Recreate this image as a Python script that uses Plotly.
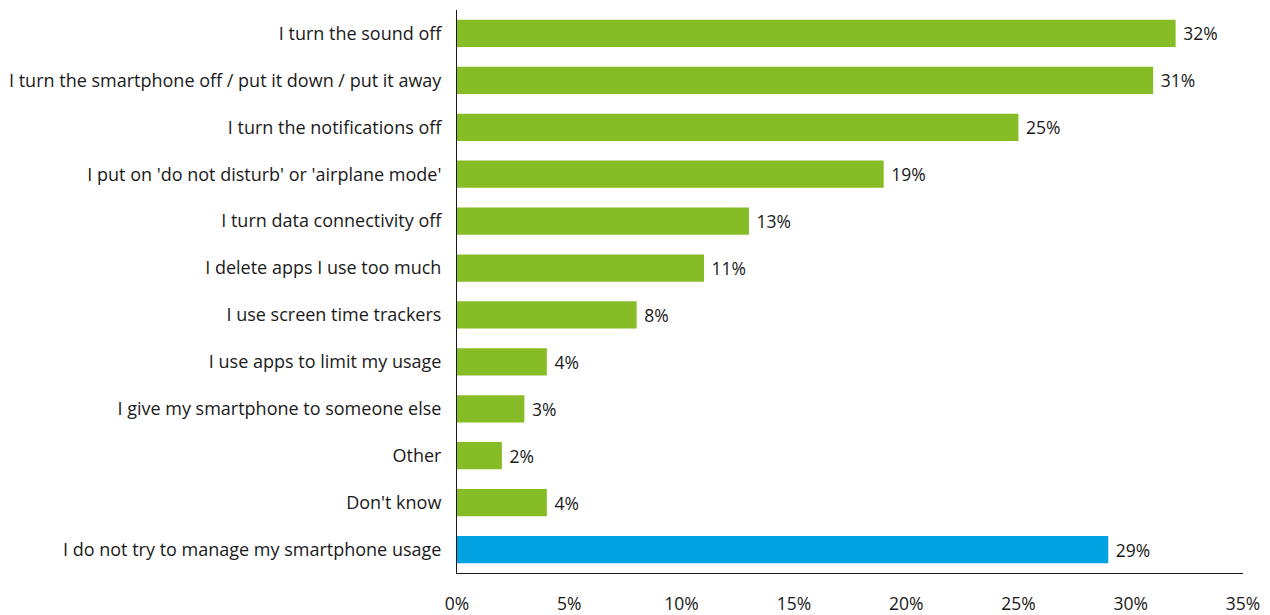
import plotly.graph_objects as go

categories = [
    "I turn the sound off",
    "I turn the smartphone off / put it down / put it away",
    "I turn the notifications off",
    "I put on 'do not disturb' or 'airplane mode'",
    "I turn data connectivity off",
    "I delete apps I use too much",
    "I use screen time trackers",
    "I use apps to limit my usage",
    "I give my smartphone to someone else",
    "Other",
    "Don't know",
    "I do not try to manage my smartphone usage",
]
values = [32, 31, 25, 19, 13, 11, 8, 4, 3, 2, 4, 29]
colors = ["#86bc25"] * 11 + ["#00a3e0"]
tick_vals = [0, 5, 10, 15, 20, 25, 30, 35]
tick_text = [f"{v}%" for v in tick_vals]

fig = go.Figure(go.Bar(
    y=categories,
    x=values,
    orientation="h",
    marker=dict(color=colors, line=dict(width=0)),
    width=0.58,
    text=[f"\u00a0{v}%" for v in values],
    textposition="outside",
    cliponaxis=False,
    textfont=dict(family="Open Sans", size=17.5, color="#1a1a1a"),
    hoverinfo="skip",
))

fig.update_layout(
    width=1262, height=607,
    margin=dict(l=449, r=27, t=2, b=42, pad=0),
    paper_bgcolor="white", plot_bgcolor="white",
    font=dict(family="Open Sans", size=18, color="#1a1a1a"),
    showlegend=False,
)
fig.update_xaxes(
    range=[0, 35], tickvals=tick_vals, ticktext=tick_text,
    showgrid=False, zeroline=False, automargin=False,
    showline=True, linecolor="#1a1a1a", linewidth=1,
    ticks="", ticklabelstandoff=15,
    tickfont=dict(size=17.5),
)
fig.update_yaxes(
    categoryorder="array", categoryarray=categories, autorange="reversed",
    showgrid=False, zeroline=False, automargin=False,
    showline=True, linecolor="#1a1a1a", linewidth=1,
    ticks="", ticklabelstandoff=11,
    tickfont=dict(size=18),
)

fig.write_html("out.html")
